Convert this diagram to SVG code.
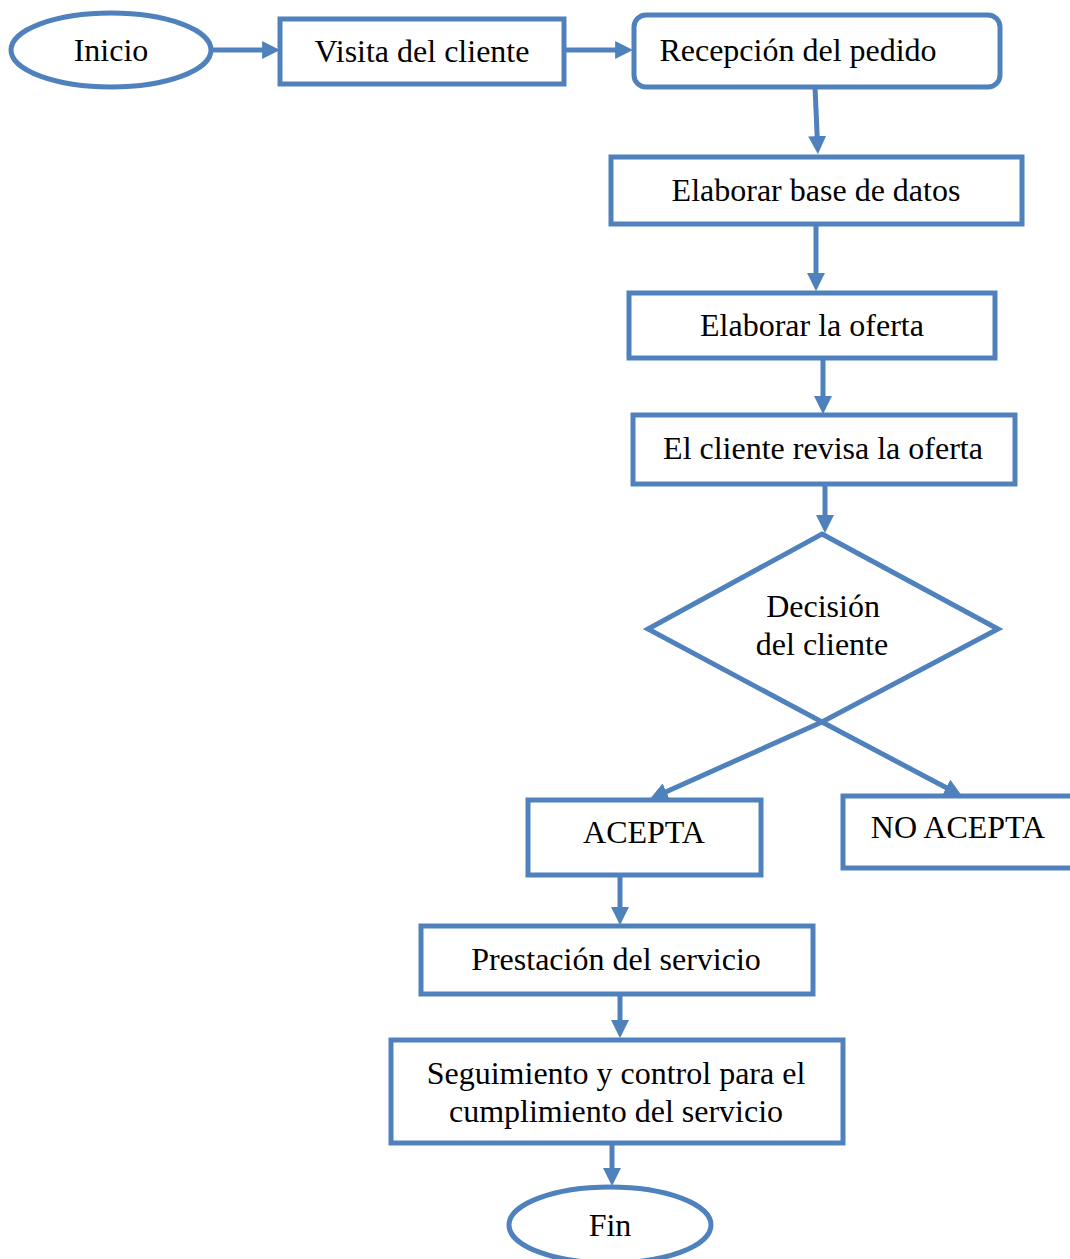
<svg xmlns="http://www.w3.org/2000/svg" width="1070" height="1259" viewBox="0 0 1070 1259">
<style>
.s{fill:#fff;stroke:#4F81BD;stroke-width:5}
.c{fill:none;stroke:#4F81BD;stroke-width:5}
.t{font-family:"Liberation Serif","Times New Roman",serif;font-size:32px;fill:#000;text-anchor:middle}
</style>
<defs>
<marker id="a" viewBox="0 0 10 10" refX="5.5" refY="5" markerWidth="18" markerHeight="18" markerUnits="userSpaceOnUse" orient="auto">
<path d="M0,0 L10,5 L0,10 z" fill="#4F81BD"/>
</marker>
</defs>
<rect width="1070" height="1259" fill="#fff"/>
<g id="connectors">
<path class="c" marker-end="url(#a)" d="M212,50 L272,50"/>
<path class="c" marker-end="url(#a)" d="M564,50 L625,50"/>
<path class="c" marker-end="url(#a)" d="M815,87 L817.6,146"/>
<path class="c" marker-end="url(#a)" d="M816,224 L816,283"/>
<path class="c" marker-end="url(#a)" d="M823,358 L823,406"/>
<path class="c" marker-end="url(#a)" d="M825,484 L825,525"/>
<path class="c" marker-end="url(#a)" d="M822,722 L657.3,795.7"/>
<path class="c" marker-end="url(#a)" d="M822,722 L954.9,792.3"/>
<path class="c" marker-end="url(#a)" d="M620,875 L620,917"/>
<path class="c" marker-end="url(#a)" d="M620,994 L620,1030"/>
<path class="c" marker-end="url(#a)" d="M612,1143 L612,1178"/>
</g>
<g id="inicio"><ellipse class="s" cx="111" cy="50" rx="100" ry="37"/><text class="t" x="111" y="61">Inicio</text></g>
<g id="visita"><rect class="s" x="280" y="19" width="284" height="65"/><text class="t" x="422" y="62">Visita del cliente</text></g>
<g id="recepcion"><rect class="s" x="634" y="15" width="366" height="72" rx="12"/><text class="t" x="798" y="61">Recepción del pedido</text></g>
<g id="base"><rect class="s" x="611" y="157" width="411" height="67"/><text class="t" x="816" y="201">Elaborar base de datos</text></g>
<g id="oferta"><rect class="s" x="629" y="293" width="366" height="65"/><text class="t" x="812" y="336">Elaborar la oferta</text></g>
<g id="revisa"><rect class="s" x="633" y="415" width="382" height="69"/><text class="t" x="823" y="459">El cliente revisa la oferta</text></g>
<g id="decision"><path class="s" d="M822,534 L998,629 L822,722 L648,629 Z"/><text class="t" x="823" y="617">Decisión</text><text class="t" x="822" y="655">del cliente</text></g>
<g id="acepta"><rect class="s" x="528" y="800" width="233" height="75"/><text class="t" x="644" y="843">ACEPTA</text></g>
<g id="noacepta"><rect class="s" x="843" y="796" width="240" height="72"/><text class="t" x="958" y="838">NO ACEPTA</text></g>
<g id="prestacion"><rect class="s" x="421" y="926" width="392" height="68"/><text class="t" x="616" y="970">Prestación del servicio</text></g>
<g id="seguimiento"><rect class="s" x="391" y="1040" width="452" height="103"/><text class="t" x="616" y="1084">Seguimiento y control para el</text><text class="t" x="616" y="1122">cumplimiento del servicio</text></g>
<g id="fin"><ellipse class="s" cx="610" cy="1225" rx="101" ry="38"/><text class="t" x="610" y="1236">Fin</text></g>
</svg>
